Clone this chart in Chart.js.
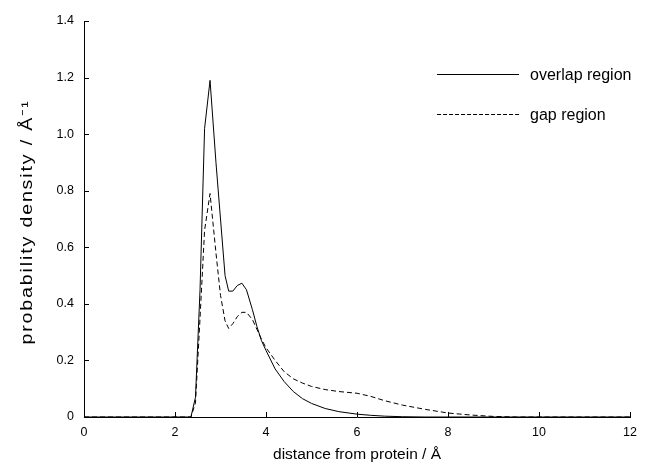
<!DOCTYPE html>
<html>
<head>
<meta charset="utf-8">
<script src="https://cdn.jsdelivr.net/npm/chart.js@4.4.0/dist/chart.umd.min.js"></script>
<style>
  html, body { margin: 0; padding: 0; background: #fff; }
</style>
</head>
<body>
<canvas id="chart" width="645" height="466"></canvas>
<script>
// distance from protein (Å) and the two density curves
const distance = [0, 2.35, 2.45, 2.55, 2.65, 2.77, 2.9, 3.0, 3.1, 3.18, 3.27, 3.37, 3.47, 3.57, 3.7, 3.8, 3.9, 4.0,
    4.2, 4.4, 4.6, 4.8, 5.0, 5.3, 5.6, 6.0, 6.3, 6.6, 7.0, 7.5, 8.0, 8.5, 9.0, 9.5, 10, 11, 12];
const overlapRegion = [0, 0, 0.07, 0.45, 1.02, 1.19, 0.9, 0.7, 0.5, 0.445, 0.445, 0.465, 0.473, 0.45, 0.38, 0.32, 0.27, 0.235,
    0.17, 0.125, 0.09, 0.065, 0.048, 0.03, 0.019, 0.01, 0.006, 0.003, 0.001, 0, 0, 0, 0, 0, 0, 0, 0];
const gapRegion = [0, 0, 0.05, 0.35, 0.66, 0.79, 0.58, 0.43, 0.34, 0.313, 0.33, 0.355, 0.37, 0.37, 0.345, 0.31, 0.275, 0.245,
    0.2, 0.16, 0.135, 0.12, 0.108, 0.097, 0.09, 0.084, 0.073, 0.058, 0.042, 0.027, 0.014, 0.007, 0.002, 0, 0, 0, 0];

const seriesNames = ['overlap region', 'gap region'];
const xTicks = [0, 2, 4, 6, 8, 10, 12];
const yTicks = [0, 0.2, 0.4, 0.6, 0.8, 1.0, 1.2, 1.4];
const yTickLabels = ['0', '0.2', '0.4', '0.6', '0.8', '1.0', '1.2', '1.4'];
const xTitle = 'distance from protein / Å';
const yTitle = 'probability density / Å⁻¹';

const FONT = 'Liberation Sans, Arial, sans-serif';

function toPoints(ys) {
    return distance.map((x, i) => ({ x: x, y: ys[i] }));
}

// small tick marks pointing into the plot, like the original
const inwardTicks = {
    id: 'inwardTicks',
    afterDraw(chart) {
        const { ctx, chartArea, scales } = chart;
        ctx.save();
        ctx.strokeStyle = '#000';
        ctx.lineWidth = 1;
        ctx.beginPath();
        xTicks.forEach(v => {
            const px = Math.round(scales.x.getPixelForValue(v)) + 0.5;
            ctx.moveTo(px, chartArea.bottom);
            ctx.lineTo(px, chartArea.bottom - 5);
        });
        yTicks.forEach(v => {
            const py = Math.round(scales.y.getPixelForValue(v)) + 0.5;
            ctx.moveTo(chartArea.left, py);
            ctx.lineTo(chartArea.left + 5, py);
        });
        ctx.stroke();
        ctx.restore();
    }
};

// y title runs long in the source figure: a little letter spacing plus a mild stretch
const longYTitle = {
    id: 'longYTitle',
    afterDraw(chart) {
        const { ctx, chartArea } = chart;
        ctx.save();
        ctx.font = '16px ' + FONT;
        if ('letterSpacing' in ctx) ctx.letterSpacing = '1.5px';
        const w = ctx.measureText(yTitle).width;
        ctx.translate(28, (chartArea.top + chartArea.bottom) / 2 + 3);
        ctx.rotate(-Math.PI / 2);
        ctx.scale(245 / w, 1);
        ctx.fillStyle = '#000';
        ctx.textAlign = 'center';
        ctx.textBaseline = 'middle';
        ctx.fillText(yTitle, 0, 0);
        ctx.restore();
    }
};

// legend drawn inside the plot, top right
const insideLegend = {
    id: 'insideLegend',
    afterDraw(chart) {
        const { ctx, chartArea } = chart;
        ctx.save();
        ctx.font = '16px ' + FONT;
        ctx.fillStyle = '#000';
        ctx.textBaseline = 'middle';
        chart.data.datasets.forEach((ds, i) => {
            const y = chartArea.top + 53 + i * 40 + 0.5;
            const x0 = chartArea.right - 193;
            const x1 = chartArea.right - 111;
            ctx.strokeStyle = ds.borderColor;
            ctx.lineWidth = ds.borderWidth;
            ctx.setLineDash(i === 1 ? [4, 2] : []);
            ctx.beginPath();
            ctx.moveTo(x0, y);
            ctx.lineTo(x1, y);
            ctx.stroke();
            ctx.fillText(ds.label, chartArea.right - 100, y + 1);
        });
        ctx.restore();
    }
};

new Chart(document.getElementById('chart'), {
    type: 'line',
    data: {
        datasets: [
            {
                label: seriesNames[0],
                data: toPoints(overlapRegion),
                borderColor: '#000',
                borderWidth: 1,
                pointRadius: 0,
                tension: 0,
                fill: false
            },
            {
                label: seriesNames[1],
                data: toPoints(gapRegion),
                borderColor: '#000',
                borderWidth: 1,
                borderDash: [5, 3],
                pointRadius: 0,
                tension: 0,
                fill: false
            }
        ]
    },
    options: {
        responsive: false,
        animation: false,
        layout: { padding: { top: 21, right: 13, bottom: 0, left: 0 } },
        plugins: {
            legend: { display: false },
            tooltip: { enabled: false }
        },
        scales: {
            x: {
                type: 'linear',
                min: 0,
                max: 12,
                afterBuildTicks: s => { s.ticks = xTicks.map(v => ({ value: v })); },
                afterFit: s => { s.height = 49; },
                grid: { display: false, drawTicks: false },
                border: { display: true, color: '#000', width: 1 },
                ticks: {
                    color: '#000',
                    padding: 8,
                    maxRotation: 0,
                    font: { family: FONT, size: 12.5 },
                    callback: v => String(v)
                },
                title: {
                    display: true,
                    text: xTitle,
                    color: '#000',
                    font: { family: FONT, size: 15.5 },
                    padding: { top: 0, bottom: 2 }
                }
            },
            y: {
                type: 'linear',
                min: 0,
                max: 1.4,
                afterBuildTicks: s => { s.ticks = yTicks.map(v => ({ value: v })); },
                afterFit: s => { s.width = 84; },
                grid: { display: false, drawTicks: false },
                border: { display: true, color: '#000', width: 1 },
                ticks: {
                    color: '#000',
                    padding: 10,
                    font: { family: FONT, size: 12.5 },
                    callback: v => yTickLabels[yTicks.indexOf(v)]
                },
                title: { display: false }
            }
        }
    },
    plugins: [inwardTicks, longYTitle, insideLegend]
});
</script>
</body>
</html>
